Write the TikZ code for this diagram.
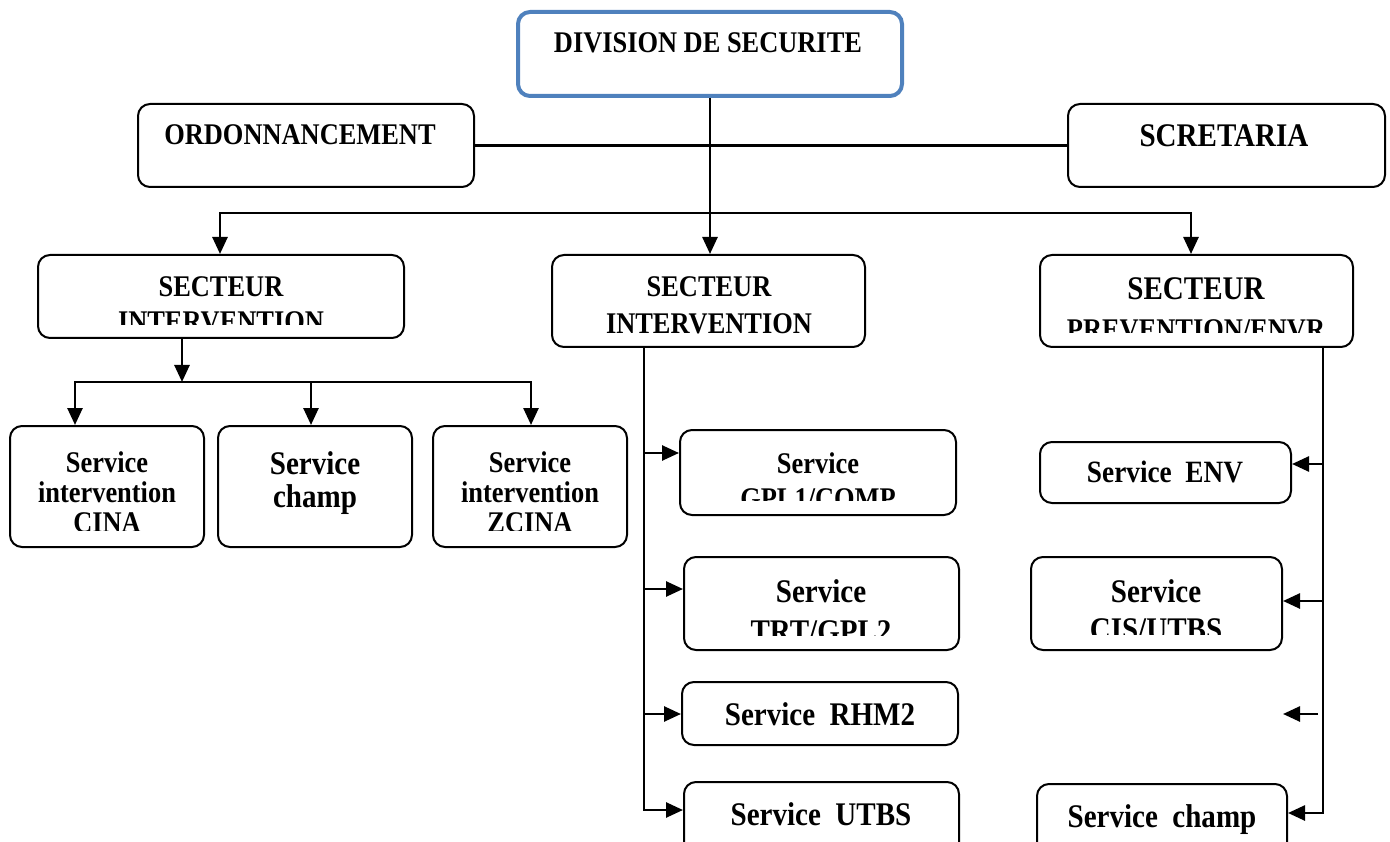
\documentclass[tikz,border=0pt]{standalone}
\usepackage{fontspec}
\setmainfont{Liberation Serif}[FakeStretch=0.88]
\usetikzlibrary{arrows.meta}
\definecolor{divblue}{HTML}{4F81BD}
\tikzset{
  box/.style={draw, line width=2pt, rounded corners=12pt, inner sep=0pt},
  lbl/.style={anchor=north, align=center, inner sep=0pt, font=\bfseries\fontsize{30}{30}\selectfont},
  biglbl/.style={lbl, font=\bfseries\fontsize{33}{33}\selectfont},
  link/.style={line width=2.6pt},
  >={Triangle[length=17pt,width=15pt]}
}
\begin{document}
\begin{tikzpicture}[x=1pt,y=-1pt]
  \useasboundingbox (0,0) rectangle (1390,842);
  % boxes
  \node[box, draw=divblue, line width=4pt, minimum width=384pt, minimum height=84pt] (div) at (710,54) {};
  \node[box, minimum width=336pt, minimum height=83pt] (ord) at (306,145.5) {};
  \node[box, minimum width=317pt, minimum height=83pt] (scr) at (1226.5,145.5) {};
  \node[box, minimum width=366pt, minimum height=83pt] (secL) at (221,296.5) {};
  \node[box, minimum width=313pt, minimum height=92pt] (secM) at (708.5,301) {};
  \node[box, minimum width=313pt, minimum height=92pt] (secR) at (1196.5,301) {};
  \node[box, minimum width=194pt, minimum height=121pt] (cina) at (107,486.5) {};
  \node[box, minimum width=194pt, minimum height=121pt] (champL) at (315,486.5) {};
  \node[box, minimum width=194pt, minimum height=121pt] (zcina) at (530,486.5) {};
  \node[box, minimum width=276pt, minimum height=85pt] (gpl) at (818,472.5) {};
  \node[box, minimum width=275pt, minimum height=93pt] (trt) at (821.5,603.5) {};
  \node[box, minimum width=276pt, minimum height=63pt] (rhm) at (820,713.5) {};
  \node[box, minimum width=275pt, minimum height=88pt] (utbs) at (821.5,826) {};
  \node[box, minimum width=251pt, minimum height=61pt] (env) at (1165.5,472.5) {};
  \node[box, minimum width=251pt, minimum height=93pt] (cis) at (1156.5,603.5) {};
  \node[box, minimum width=250pt, minimum height=86pt] (champR) at (1162,827) {};
  % texts
  \node[lbl] (divt) at (708,32) {DIVISION DE SECURITE};
  \node[lbl] (ordt) at (300,124) {ORDONNANCEMENT};
  \node[biglbl] (scrt) at (1224,124) {SCRETARIA};
  \begin{scope}
    \clip (38,255) rectangle (404,325);
    \node[lbl] (secLt) at (221,276) {SECTEUR\\[5pt]INTERVENTION};
  \end{scope}
  \node[lbl] (secMt) at (709,276) {SECTEUR\\[7pt]INTERVENTION};
  \node[biglbl] (secRa) at (1196,277) {SECTEUR};
  \begin{scope}
    \clip (1040,255) rectangle (1353,333);
    \node[lbl, anchor=base] (secRb) at (1196,340) {PREVENTION/ENVR};
  \end{scope}
  \begin{scope}
    \clip (10,426) rectangle (204,530);
    \node[lbl] (cinat) at (107,451) {Service\\intervention\\CINA};
  \end{scope}
  \node[biglbl] (champLt) at (315,451) {Service\\champ};
  \begin{scope}
    \clip (433,426) rectangle (627,530);
    \node[lbl] (zcinat) at (530,451) {Service\\intervention\\ZCINA};
  \end{scope}
  \begin{scope}
    \clip (680,430) rectangle (956,500);
    \node[lbl] (gplt) at (818,452) {Service\\[5pt]GPL1/COMP};
  \end{scope}
  \begin{scope}
    \clip (684,557) rectangle (959,635);
    \node[biglbl] (trtt) at (821,579) {Service\\[7pt]TRT/GPL2};
  \end{scope}
  \node[biglbl] (rhmt) at (820,702) {Service\ \ RHM2};
  \node[biglbl] (utbst) at (821,802) {Service\ \ UTBS};
  \node[lbl, font=\bfseries\fontsize{31}{31}\selectfont] (envt) at (1165,461) {Service\ \ ENV};
  \begin{scope}
    \clip (1031,557) rectangle (1282,634);
    \node[biglbl] (cist) at (1156,579) {Service\\[5pt]CIS/UTBS};
  \end{scope}
  \node[biglbl] (champRt) at (1162,804) {Service\ \ champ};
  % top links
  \draw[link, ->] (div.south) -- (div.south |- secM.north);
  \draw[link] (ord.east) -- (scr.west);
  \coordinate (brL) at (220,213);
  \coordinate (brR) at (1191,213);
  \draw[link, <->] (brL |- secL.north) -- (brL) -- (brR) -- (brR |- secR.north);
  % left sector
  \coordinate (jL) at (182,382);
  \coordinate (jA) at (75,382);
  \coordinate (jB) at (311,382);
  \coordinate (jC) at (531,382);
  \draw[link, ->] (jL |- secL.south) -- (jL);
  \draw[link, <->] (jA |- cina.north) -- (jA) -- (jC) -- (jC |- zcina.north);
  \draw[link, ->] (jB) -- (jB |- champL.north);
  % middle sector
  \coordinate (mx) at (644,347);
  \coordinate (m1) at (644,453);
  \coordinate (m2) at (644,589);
  \coordinate (m3) at (644,714);
  \coordinate (m4) at (644,810);
  \draw[link, ->] (mx) -- (m4) -- (m4 -| utbs.west);
  \draw[link, ->] (m1) -- (m1 -| gpl.west);
  \draw[link, ->] (m2) -- (m2 -| trt.west);
  \draw[link, ->] (m3) -- (m3 -| rhm.west);
  % right sector
  \coordinate (rx) at (1323,347);
  \coordinate (r1) at (1323,464);
  \coordinate (r2) at (1323,601);
  \coordinate (r3a) at (1318,714);
  \coordinate (r3b) at (1283,714);
  \coordinate (r4) at (1323,813);
  \draw[link, ->] (rx) -- (r4) -- (r4 -| champR.east);
  \draw[link, ->] (r1) -- (r1 -| env.east);
  \draw[link, ->] (r2) -- (r2 -| cis.east);
  \draw[link, ->] (r3a) -- (r3b);
\end{tikzpicture}
\end{document}
